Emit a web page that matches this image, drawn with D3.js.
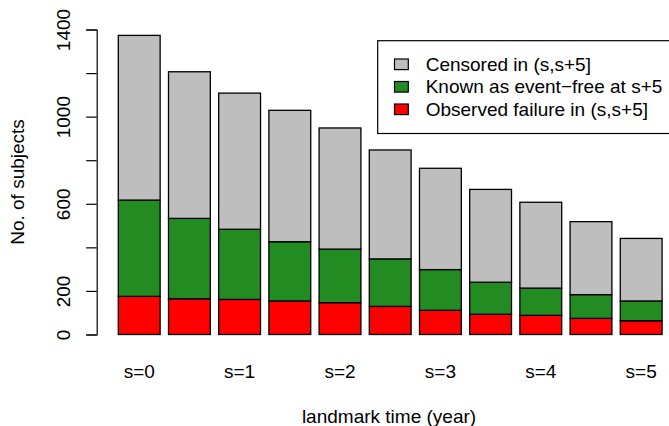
<!DOCTYPE html>
<html>
<head>
<meta charset="utf-8">
<script src="https://cdn.jsdelivr.net/npm/d3@7"></script>
<style>
	body { margin: 0; background: #fff; }
	svg text { font-family: "Liberation Sans", Arial, sans-serif; fill: #000; }
</style>
</head>
<body>
<svg id="chart" width="669" height="426"></svg>
<script>
// landmark times, one bar per half year
var landmarks = ['0', '0.5', '1', '1.5', '2', '2.5', '3', '3.5', '4', '4.5', '5'];
var failure = [175, 164, 161, 154, 146, 129, 111, 93, 88, 74, 63];
var eventFree = [442, 369, 322, 272, 246, 218, 187, 147, 125, 109, 91];
var censored = [756, 673, 625, 603, 556, 500, 465, 426, 394, 335, 287];
var yTicks = [0, 200, 400, 600, 800, 1000, 1200, 1400];
var yLabels = [0, 200, 600, 1000, 1400];

var seriesNames = ['failure', 'eventFree', 'censored'];
var legendLabels = ['Censored in (s,s+5]', 'Known as event\u2212free at s+5', 'Observed failure in (s,s+5]'];
var colors = { failure: '#FF0000', eventFree: '#228B22', censored: '#BEBEBE' };

var svg = d3.select('#chart');
var fontSize = 19;

var rows = landmarks.map(function(d, i){
	return { s: d, failure: failure[i], eventFree: eventFree[i], censored: censored[i] };
});

var xScale = d3.scaleBand()
	.domain(landmarks)
	.range([118.3, 662.1])
	.paddingInner(1 / 6)
	.paddingOuter(0);

var yScale = d3.scaleLinear()
	.domain([0, 1400])
	.range([334.5, 29.5]);

var stacked = d3.stack().keys(seriesNames)(rows);

// bars
stacked.forEach(function(layer){
	svg.append('g')
		.selectAll('rect')
		.data(layer)
		.join('rect')
		.attr('x', function(d){ return xScale(d.data.s); })
		.attr('y', function(d){ return yScale(d[1]); })
		.attr('width', xScale.bandwidth())
		.attr('height', function(d){ return yScale(d[0]) - yScale(d[1]); })
		.attr('fill', colors[layer.key])
		.attr('stroke', '#000')
		.attr('stroke-width', 1.3);
});

// y axis
var yAxis = d3.axisLeft(yScale)
	.tickValues(yTicks)
	.tickSize(10.5)
	.tickFormat(function(d){ return yLabels.indexOf(d) >= 0 ? d : ''; });

var yG = svg.append('g')
	.attr('transform', 'translate(96.7,0)')
	.call(yAxis);
yG.select('.domain').attr('stroke', '#000').attr('stroke-width', 1.2);
yG.selectAll('.tick line').attr('stroke', '#000').attr('stroke-width', 1.2);
yG.selectAll('.tick text')
	.attr('x', null).attr('dy', null)
	.attr('transform', 'translate(-33.4,0) rotate(-90)')
	.attr('text-anchor', 'middle')
	.attr('dominant-baseline', 'central')
	.style('font-size', fontSize + 'px');

// x labels, only whole years
svg.append('g')
	.selectAll('text')
	.data(landmarks.filter(function(d){ return d.indexOf('.') < 0; }))
	.join('text')
	.attr('x', function(d){ return xScale(d) + xScale.bandwidth() / 2; })
	.attr('y', 371)
	.attr('text-anchor', 'middle')
	.attr('dominant-baseline', 'central')
	.style('font-size', fontSize + 'px')
	.text(function(d){ return 's=' + d; });

// axis titles
svg.append('text')
	.attr('x', 389)
	.attr('y', 416)
	.attr('text-anchor', 'middle')
	.attr('dominant-baseline', 'central')
	.style('font-size', fontSize + 'px')
	.text('landmark time (year)');

svg.append('text')
	.attr('transform', 'translate(17,182) rotate(-90)')
	.attr('text-anchor', 'middle')
	.attr('dominant-baseline', 'central')
	.style('font-size', fontSize + 'px')
	.text('No. of subjects');

// legend (box runs off the right edge like the original)
var legend = svg.append('g');
legend.append('rect')
	.attr('x', 377.7)
	.attr('y', 40.7)
	.attr('width', 320)
	.attr('height', 92.8)
	.attr('fill', 'none')
	.attr('stroke', '#000')
	.attr('stroke-width', 1.2);

var legendKeys = ['censored', 'eventFree', 'failure'];
var rowY = [64.3, 86.8, 109.3];
legendKeys.forEach(function(key, i){
	legend.append('rect')
		.attr('x', 394.5)
		.attr('y', rowY[i] - 5.3)
		.attr('width', 13.8)
		.attr('height', 10.6)
		.attr('fill', colors[key])
		.attr('stroke', '#000')
		.attr('stroke-width', 1.2);
	legend.append('text')
		.attr('x', 425.7)
		.attr('y', rowY[i])
		.attr('dominant-baseline', 'central')
		.style('font-size', fontSize + 'px')
		.text(legendLabels[i]);
});
</script>
</body>
</html>
